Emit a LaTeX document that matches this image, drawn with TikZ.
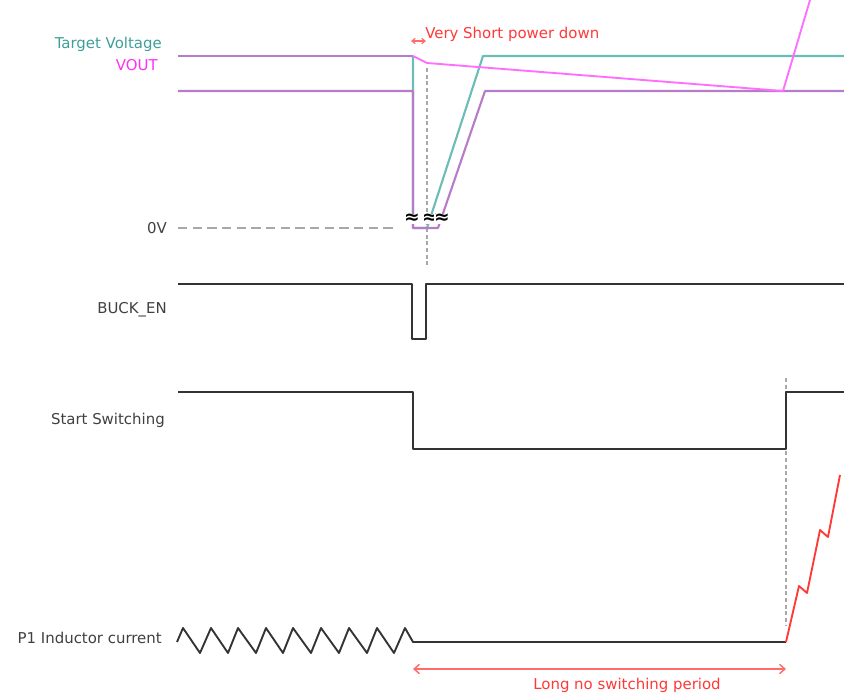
\documentclass[tikz,border=0pt]{standalone}
\usepackage{fontspec}
\setmainfont{DejaVu Sans}
\usetikzlibrary{arrows.meta}
\definecolor{tealL}{HTML}{6CBCB8}
\definecolor{tealT}{HTML}{3E9E9A}
\definecolor{purpL}{HTML}{B77CC9}
\definecolor{pinkL}{HTML}{FF6EFF}
\definecolor{pinkT}{HTML}{FF2EF5}
\definecolor{redL}{HTML}{FF3838}
\definecolor{redA}{HTML}{FF6C6C}
\definecolor{sig}{HTML}{333333}
\definecolor{lab}{HTML}{404040}
\definecolor{guide}{HTML}{A8A8A8}
\begin{document}
\begin{tikzpicture}[x=0.75pt,y=-0.75pt,
  lbl/.style={font=\fontsize{11.2}{13}\selectfont, text=lab, inner sep=0pt, anchor=east},
  wave/.style={line width=1.6pt, line join=round},
  sigwave/.style={wave, draw=sig},
  guideline/.style={draw=guide, line width=1pt, densely dashed},
  brk/.style={font=\fontsize{14}{14}\selectfont\bfseries, fill=white, inner sep=0.2pt, text=black}]
\useasboundingbox (0,0) rectangle (844,693);

% labels
\node[lbl, text=tealT] (tv) at (162,44) {Target Voltage};
\node[lbl, text=pinkT] (vo) at (158,65) {VOUT};
\node[lbl] (zv) at (167,228) {0V};
\node[lbl] (be) at (167,310) {BUCK\_EN};
\node[lbl] (ss) at (165,420) {Start Switching};
\node[lbl] (p1) at (162,638) {P1 Inductor current};
\node[font=\fontsize{11.2}{13}\selectfont, text=redL, inner sep=0pt, anchor=west] (vs) at (425,34) {Very Short power down};
\node[font=\fontsize{11.2}{13}\selectfont, text=redL, inner sep=0pt] (ln) at (627,685) {Long no switching period};

% guides
\draw[draw=guide, line width=1.2pt, dash pattern=on 7pt off 4pt] (178,228) -- (394,228);
\draw[guideline] (427,68) -- (427,268);
\draw[guideline] (786,378) -- (786,625);

% target voltage (teal)
\draw[wave, draw=tealL] (413,56) -- (413,228) -- (427,228) -- (483,56) -- (844,56);
% purple
\draw[wave, draw=purpL] (178,56) -- (413,56);
\draw[wave, draw=purpL] (178,91) -- (413,91) -- (413,228) -- (438,228) -- (485,91) -- (844,91);
% VOUT pink
\draw[wave, draw=pinkL, line width=1.4pt] (413,56) -- (427,63) -- (783,91) -- (810,0);

% break marks
\node[brk] (b1) at (412,219) {≈};
\node[brk] (b2) at (430,219) {≈};
\node[brk] (b3) at (442,219) {≈};

% small arrow for very short
\draw[redA, line width=0.9pt, {Straight Barb[length=2.5pt,width=4pt]}-{Straight Barb[length=2.5pt,width=4pt]}] (411,41) -- (426,41);

% BUCK_EN
\draw[sigwave] (178,284) -- (412,284) -- (412,339) -- (426,339) -- (426,284) -- (844,284);
% Start switching
\draw[sigwave] (178,392) -- (413,392) -- (413,449) -- (786,449) -- (786,392) -- (844,392);
% inductor current
\draw[sigwave, line width=1.4pt] (177,642) -- (183,628) -- (200,653) -- (211,628) -- (228,653) -- (238,628) -- (256,653) -- (266,628) -- (283,653) -- (293,628) -- (311,653) -- (321,628) -- (339,653) -- (349,628) -- (367,653) -- (377,628) -- (394,653) -- (405,628) -- (413,642) -- (786,642);
\draw[wave, draw=redL, line width=1.4pt] (786,642) -- (799,586) -- (807,593) -- (820,530) -- (828,537) -- (840,475);

% long arrow
\coordinate (la) at (413,669);
\coordinate (lb) at (786,669);
\draw[redA, line width=1.1pt, {Straight Barb[length=4pt,width=7pt]}-{Straight Barb[length=4pt,width=7pt]}] (la) -- (lb);
\end{tikzpicture}
\end{document}
